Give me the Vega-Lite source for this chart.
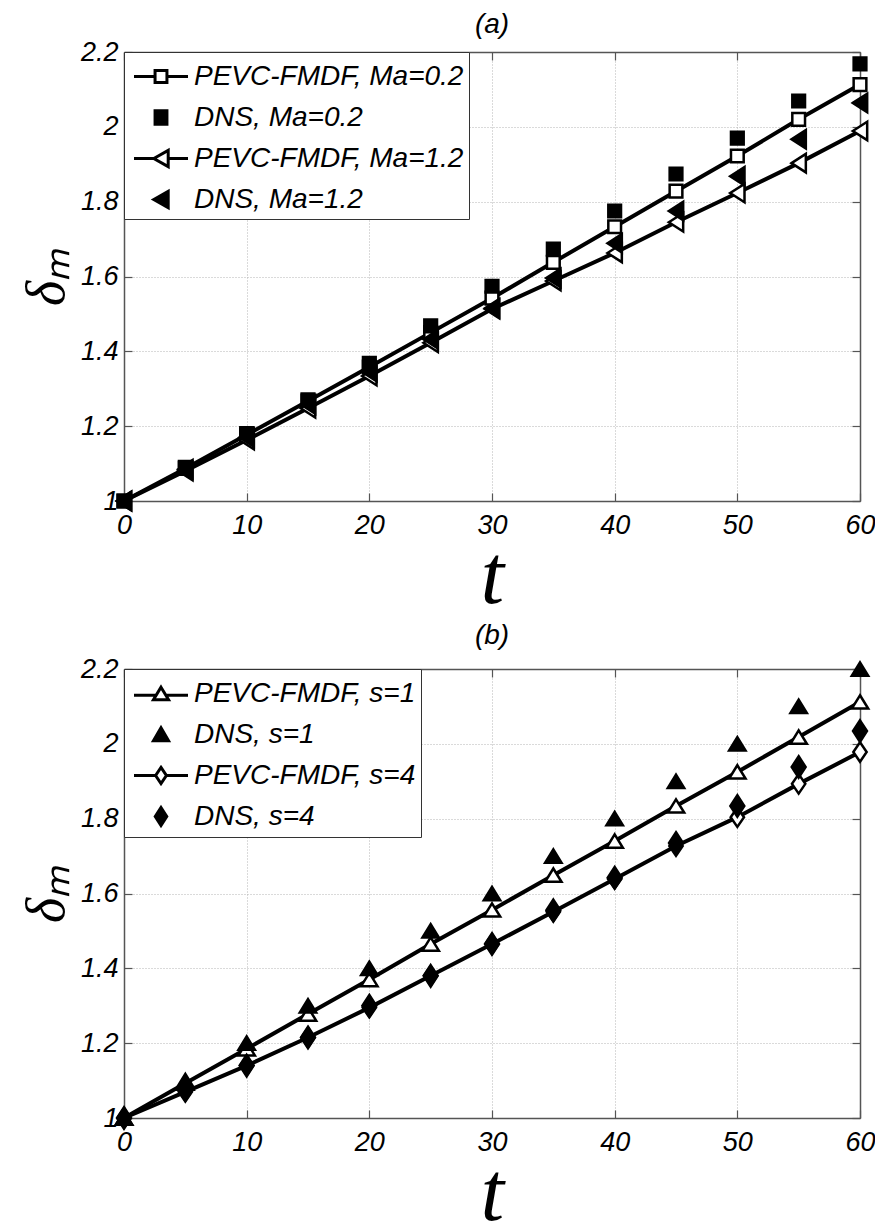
{
  "$schema": "https://vega.github.io/schema/vega-lite/v6.json",
  "padding": {"left": 20, "top": 11, "right": 0, "bottom": 2},
  "spacing": 3,
  "datasets": {
    "a": [
      {"t": 0, "v": 1.0, "series": "PEVC-FMDF, Ma=0.2"},
      {"t": 5, "v": 1.087, "series": "PEVC-FMDF, Ma=0.2"},
      {"t": 10, "v": 1.177, "series": "PEVC-FMDF, Ma=0.2"},
      {"t": 15, "v": 1.267, "series": "PEVC-FMDF, Ma=0.2"},
      {"t": 20, "v": 1.358, "series": "PEVC-FMDF, Ma=0.2"},
      {"t": 25, "v": 1.45, "series": "PEVC-FMDF, Ma=0.2"},
      {"t": 30, "v": 1.542, "series": "PEVC-FMDF, Ma=0.2"},
      {"t": 35, "v": 1.638, "series": "PEVC-FMDF, Ma=0.2"},
      {"t": 40, "v": 1.733, "series": "PEVC-FMDF, Ma=0.2"},
      {"t": 45, "v": 1.828, "series": "PEVC-FMDF, Ma=0.2"},
      {"t": 50, "v": 1.922, "series": "PEVC-FMDF, Ma=0.2"},
      {"t": 55, "v": 2.02, "series": "PEVC-FMDF, Ma=0.2"},
      {"t": 60, "v": 2.113, "series": "PEVC-FMDF, Ma=0.2"},
      {"t": 0, "v": 1.0, "series": "DNS, Ma=0.2"},
      {"t": 5, "v": 1.09, "series": "DNS, Ma=0.2"},
      {"t": 10, "v": 1.18, "series": "DNS, Ma=0.2"},
      {"t": 15, "v": 1.27, "series": "DNS, Ma=0.2"},
      {"t": 20, "v": 1.368, "series": "DNS, Ma=0.2"},
      {"t": 25, "v": 1.468, "series": "DNS, Ma=0.2"},
      {"t": 30, "v": 1.574, "series": "DNS, Ma=0.2"},
      {"t": 35, "v": 1.673, "series": "DNS, Ma=0.2"},
      {"t": 40, "v": 1.775, "series": "DNS, Ma=0.2"},
      {"t": 45, "v": 1.874, "series": "DNS, Ma=0.2"},
      {"t": 50, "v": 1.97, "series": "DNS, Ma=0.2"},
      {"t": 55, "v": 2.069, "series": "DNS, Ma=0.2"},
      {"t": 60, "v": 2.168, "series": "DNS, Ma=0.2"},
      {"t": 0, "v": 1.0, "series": "PEVC-FMDF, Ma=1.2"},
      {"t": 5, "v": 1.08, "series": "PEVC-FMDF, Ma=1.2"},
      {"t": 10, "v": 1.163, "series": "PEVC-FMDF, Ma=1.2"},
      {"t": 15, "v": 1.248, "series": "PEVC-FMDF, Ma=1.2"},
      {"t": 20, "v": 1.334, "series": "PEVC-FMDF, Ma=1.2"},
      {"t": 25, "v": 1.423, "series": "PEVC-FMDF, Ma=1.2"},
      {"t": 30, "v": 1.513, "series": "PEVC-FMDF, Ma=1.2"},
      {"t": 35, "v": 1.588, "series": "PEVC-FMDF, Ma=1.2"},
      {"t": 40, "v": 1.663, "series": "PEVC-FMDF, Ma=1.2"},
      {"t": 45, "v": 1.745, "series": "PEVC-FMDF, Ma=1.2"},
      {"t": 50, "v": 1.823, "series": "PEVC-FMDF, Ma=1.2"},
      {"t": 55, "v": 1.903, "series": "PEVC-FMDF, Ma=1.2"},
      {"t": 60, "v": 1.989, "series": "PEVC-FMDF, Ma=1.2"},
      {"t": 0, "v": 1.0, "series": "DNS, Ma=1.2"},
      {"t": 5, "v": 1.085, "series": "DNS, Ma=1.2"},
      {"t": 10, "v": 1.17, "series": "DNS, Ma=1.2"},
      {"t": 15, "v": 1.258, "series": "DNS, Ma=1.2"},
      {"t": 20, "v": 1.345, "series": "DNS, Ma=1.2"},
      {"t": 25, "v": 1.432, "series": "DNS, Ma=1.2"},
      {"t": 30, "v": 1.515, "series": "DNS, Ma=1.2"},
      {"t": 35, "v": 1.596, "series": "DNS, Ma=1.2"},
      {"t": 40, "v": 1.689, "series": "DNS, Ma=1.2"},
      {"t": 45, "v": 1.775, "series": "DNS, Ma=1.2"},
      {"t": 50, "v": 1.868, "series": "DNS, Ma=1.2"},
      {"t": 55, "v": 1.967, "series": "DNS, Ma=1.2"},
      {"t": 60, "v": 2.064, "series": "DNS, Ma=1.2"}
    ],
    "b": [
      {"t": 0, "v": 1.0, "series": "PEVC-FMDF, s=1"},
      {"t": 5, "v": 1.093, "series": "PEVC-FMDF, s=1"},
      {"t": 10, "v": 1.185, "series": "PEVC-FMDF, s=1"},
      {"t": 15, "v": 1.278, "series": "PEVC-FMDF, s=1"},
      {"t": 20, "v": 1.37, "series": "PEVC-FMDF, s=1"},
      {"t": 25, "v": 1.465, "series": "PEVC-FMDF, s=1"},
      {"t": 30, "v": 1.556, "series": "PEVC-FMDF, s=1"},
      {"t": 35, "v": 1.649, "series": "PEVC-FMDF, s=1"},
      {"t": 40, "v": 1.74, "series": "PEVC-FMDF, s=1"},
      {"t": 45, "v": 1.834, "series": "PEVC-FMDF, s=1"},
      {"t": 50, "v": 1.925, "series": "PEVC-FMDF, s=1"},
      {"t": 55, "v": 2.018, "series": "PEVC-FMDF, s=1"},
      {"t": 60, "v": 2.112, "series": "PEVC-FMDF, s=1"},
      {"t": 0, "v": 1.0, "series": "DNS, s=1"},
      {"t": 5, "v": 1.1, "series": "DNS, s=1"},
      {"t": 10, "v": 1.2, "series": "DNS, s=1"},
      {"t": 15, "v": 1.3, "series": "DNS, s=1"},
      {"t": 20, "v": 1.4, "series": "DNS, s=1"},
      {"t": 25, "v": 1.5, "series": "DNS, s=1"},
      {"t": 30, "v": 1.6, "series": "DNS, s=1"},
      {"t": 35, "v": 1.7, "series": "DNS, s=1"},
      {"t": 40, "v": 1.8, "series": "DNS, s=1"},
      {"t": 45, "v": 1.9, "series": "DNS, s=1"},
      {"t": 50, "v": 2.0, "series": "DNS, s=1"},
      {"t": 55, "v": 2.1, "series": "DNS, s=1"},
      {"t": 60, "v": 2.2, "series": "DNS, s=1"},
      {"t": 0, "v": 1.0, "series": "PEVC-FMDF, s=4"},
      {"t": 5, "v": 1.07, "series": "PEVC-FMDF, s=4"},
      {"t": 10, "v": 1.14, "series": "PEVC-FMDF, s=4"},
      {"t": 15, "v": 1.215, "series": "PEVC-FMDF, s=4"},
      {"t": 20, "v": 1.295, "series": "PEVC-FMDF, s=4"},
      {"t": 25, "v": 1.38, "series": "PEVC-FMDF, s=4"},
      {"t": 30, "v": 1.465, "series": "PEVC-FMDF, s=4"},
      {"t": 35, "v": 1.551, "series": "PEVC-FMDF, s=4"},
      {"t": 40, "v": 1.639, "series": "PEVC-FMDF, s=4"},
      {"t": 45, "v": 1.727, "series": "PEVC-FMDF, s=4"},
      {"t": 50, "v": 1.804, "series": "PEVC-FMDF, s=4"},
      {"t": 55, "v": 1.893, "series": "PEVC-FMDF, s=4"},
      {"t": 60, "v": 1.978, "series": "PEVC-FMDF, s=4"},
      {"t": 0, "v": 1.0, "series": "DNS, s=4"},
      {"t": 5, "v": 1.075, "series": "DNS, s=4"},
      {"t": 10, "v": 1.14, "series": "DNS, s=4"},
      {"t": 15, "v": 1.215, "series": "DNS, s=4"},
      {"t": 20, "v": 1.3, "series": "DNS, s=4"},
      {"t": 25, "v": 1.38, "series": "DNS, s=4"},
      {"t": 30, "v": 1.465, "series": "DNS, s=4"},
      {"t": 35, "v": 1.555, "series": "DNS, s=4"},
      {"t": 40, "v": 1.642, "series": "DNS, s=4"},
      {"t": 45, "v": 1.735, "series": "DNS, s=4"},
      {"t": 50, "v": 1.834, "series": "DNS, s=4"},
      {"t": 55, "v": 1.938, "series": "DNS, s=4"},
      {"t": 60, "v": 2.034, "series": "DNS, s=4"}
    ]
  },
  "vconcat": [
    {
      "width": 736,
      "height": 449,
      "title": {"text": "(a)", "font": "Liberation Sans", "fontSize": 28, "fontStyle": "italic", "fontWeight": "normal", "color": "black", "anchor": "middle", "frame": "group", "offset": -1},
      "data": {"name": "a"},
      "layer": [
        {
          "transform": [{"filter": "indexof(datum.series, 'PEVC') === 0"}],
          "mark": {"type": "line", "color": "black", "strokeWidth": 4},
          "encoding": {
            "x": {"field": "t", "type": "quantitative", "scale": {"domain": [0, 60], "nice": false},
                  "axis": {"orient": "bottom", "grid": true, "title": "t", "values": [0, 10, 20, 30, 40, 50, 60], "format": "d", "labelPadding": 19, "titleFontSize": 84, "titlePadding": -2}},
            "y": {"field": "v", "type": "quantitative", "scale": {"domain": [1, 2.2], "nice": false, "zero": false},
                  "axis": {"orient": "left", "grid": true, "title": "δₘ", "values": [1, 1.2, 1.4, 1.6, 1.8, 2, 2.2], "format": "~g", "labelPadding": 14, "titleFontSize": 54, "titlePadding": 6}},
            "detail": {"field": "series"}
          }
        },
        {
          "mark": {"type": "point", "filled": true, "stroke": "black", "strokeWidth": 2.5, "size": 420, "opacity": 1},
          "encoding": {
            "x": {"field": "t", "type": "quantitative", "scale": {"domain": [0, 60], "nice": false},
                  "axis": {"orient": "top", "grid": false, "labels": false, "title": null, "values": [0, 10, 20, 30, 40, 50, 60]}},
            "y": {"field": "v", "type": "quantitative", "scale": {"domain": [1, 2.2], "nice": false, "zero": false},
                  "axis": {"orient": "right", "grid": false, "labels": false, "title": null, "values": [1, 1.2, 1.4, 1.6, 1.8, 2, 2.2]}},
            "shape": {
              "field": "series", "type": "nominal", "legend": null,
              "scale": {
                "domain": ["DNS, Ma=0.2", "PEVC-FMDF, Ma=0.2", "DNS, Ma=1.2", "PEVC-FMDF, Ma=1.2"],
                "range": ["M-0.62,-0.62L0.62,-0.62L0.62,0.62L-0.62,0.62Z", "M-0.62,-0.62L0.62,-0.62L0.62,0.62L-0.62,0.62Z", "M-0.7,0L0.7,-0.9L0.7,0.9Z", "M-0.7,0L0.7,-0.9L0.7,0.9Z"]
              }
            },
            "fill": {
              "field": "series", "type": "nominal",
              "scale": {
                "domain": ["PEVC-FMDF, Ma=0.2", "DNS, Ma=0.2", "PEVC-FMDF, Ma=1.2", "DNS, Ma=1.2"],
                "range": ["white", "black", "white", "black"]
              },
              "legend": {
                "orient": "top-left",
                "symbolType": {"expr": "datum.value === 'PEVC-FMDF, Ma=0.2' ? 'M-1.5,0L-0.33,0M0.33,0L1.5,0M-0.33,-0.33L0.33,-0.33L0.33,0.33L-0.33,0.33Z' : datum.value === 'DNS, Ma=0.2' ? 'M-0.33,-0.38L0.33,-0.38L0.33,0.38L-0.33,0.38Z' : datum.value === 'PEVC-FMDF, Ma=1.2' ? 'M-1.5,0L-0.4,0M0.4,0L1.5,0M-0.4,0L0.4,-0.45L0.4,0.45Z' : 'M-0.4,0L0.4,-0.45L0.4,0.45Z'"},
                "encode": {
                  "symbols": {
                    "stroke": {"value": "black"},
                    "strokeWidth": {"value": 3},
                    "size": {"value": 1296},
                    "opacity": {"value": 1}
                  }
                }
              }
            }
          }
        }
      ],
      "resolve": {"axis": {"x": "independent", "y": "independent"}}
    },
    {
      "width": 736,
      "height": 449,
      "title": {"text": "(b)", "font": "Liberation Sans", "fontSize": 28, "fontStyle": "italic", "fontWeight": "normal", "color": "black", "anchor": "middle", "frame": "group", "offset": 5},
      "data": {"name": "b"},
      "layer": [
        {
          "transform": [{"filter": "indexof(datum.series, 'PEVC') === 0"}],
          "mark": {"type": "line", "color": "black", "strokeWidth": 4},
          "encoding": {
            "x": {"field": "t", "type": "quantitative", "scale": {"domain": [0, 60], "nice": false},
                  "axis": {"orient": "bottom", "grid": true, "title": "t", "values": [0, 10, 20, 30, 40, 50, 60], "format": "d", "labelPadding": 19, "titleFontSize": 84, "titlePadding": -2}},
            "y": {"field": "v", "type": "quantitative", "scale": {"domain": [1, 2.2], "nice": false, "zero": false},
                  "axis": {"orient": "left", "grid": true, "title": "δₘ", "values": [1, 1.2, 1.4, 1.6, 1.8, 2, 2.2], "format": "~g", "labelPadding": 14, "titleFontSize": 54, "titlePadding": 6}},
            "detail": {"field": "series"}
          }
        },
        {
          "mark": {"type": "point", "filled": true, "stroke": "black", "strokeWidth": 2.5, "size": 420, "opacity": 1},
          "encoding": {
            "x": {"field": "t", "type": "quantitative", "scale": {"domain": [0, 60], "nice": false},
                  "axis": {"orient": "top", "grid": false, "labels": false, "title": null, "values": [0, 10, 20, 30, 40, 50, 60]}},
            "y": {"field": "v", "type": "quantitative", "scale": {"domain": [1, 2.2], "nice": false, "zero": false},
                  "axis": {"orient": "right", "grid": false, "labels": false, "title": null, "values": [1, 1.2, 1.4, 1.6, 1.8, 2, 2.2]}},
            "shape": {
              "field": "series", "type": "nominal", "legend": null,
              "scale": {
                "domain": ["DNS, s=1", "PEVC-FMDF, s=1", "DNS, s=4", "PEVC-FMDF, s=4"],
                "range": ["M0,-0.65L0.8,0.65L-0.8,0.65Z", "M0,-0.65L0.8,0.65L-0.8,0.65Z", "M0,-1.05L0.68,0L0,1.05L-0.68,0Z", "M0,-0.95L0.65,0L0,0.95L-0.65,0Z"]
              }
            },
            "fill": {
              "field": "series", "type": "nominal",
              "scale": {
                "domain": ["PEVC-FMDF, s=1", "DNS, s=1", "PEVC-FMDF, s=4", "DNS, s=4"],
                "range": ["white", "black", "white", "black"]
              },
              "legend": {
                "orient": "top-left",
                "symbolType": {"expr": "datum.value === 'PEVC-FMDF, s=1' ? 'M-1.5,0.1L-0.27,0.1M0.27,0.1L1.5,0.1M0,-0.35L0.42,0.35L-0.42,0.35Z' : datum.value === 'DNS, s=1' ? 'M0,-0.38L0.42,0.35L-0.42,0.35Z' : datum.value === 'PEVC-FMDF, s=4' ? 'M-1.5,0L-0.3,0M0.3,0L1.5,0M0,-0.45L0.3,0L0,0.45L-0.3,0Z' : 'M0,-0.5L0.32,0L0,0.5L-0.32,0Z'"},
                "encode": {
                  "symbols": {
                    "stroke": {"value": "black"},
                    "strokeWidth": {"value": 3},
                    "size": {"value": 1296},
                    "opacity": {"value": 1}
                  }
                }
              }
            }
          }
        }
      ],
      "resolve": {"axis": {"x": "independent", "y": "independent"}}
    }
  ],
  "resolve": {"scale": {"shape": "independent", "fill": "independent"}, "legend": {"shape": "independent", "fill": "independent"}},
  "config": {
    "font": "Liberation Sans",
    "view": {"stroke": null},
    "axis": {
      "domainColor": "#555555", "domainWidth": 1.5,
      "tickColor": "#555555", "tickWidth": 1.2, "tickSize": -8,
      "gridColor": "#b4b4b4", "gridDash": [1, 2], "gridWidth": 1,
      "labelFont": "Liberation Sans", "labelFontSize": 27, "labelFontStyle": "italic", "labelColor": "black",
      "labelFlush": false, "labelOverlap": false,
      "titleFont": "Liberation Serif", "titleFontStyle": "italic", "titleFontWeight": "normal", "titleColor": "black"
    },
    "legend": {
      "title": null, "offset": 0, "padding": 5, "strokeColor": "#333333", "fillColor": "white", "cornerRadius": 0,
      "labelFont": "Liberation Sans", "labelFontSize": 28, "labelFontStyle": "italic", "labelColor": "black", "labelLimit": 500,
      "symbolSize": 1296, "symbolOffset": 12.5, "labelOffset": 13.5, "rowPadding": 7, "symbolStrokeWidth": 3
    }
  }
}
